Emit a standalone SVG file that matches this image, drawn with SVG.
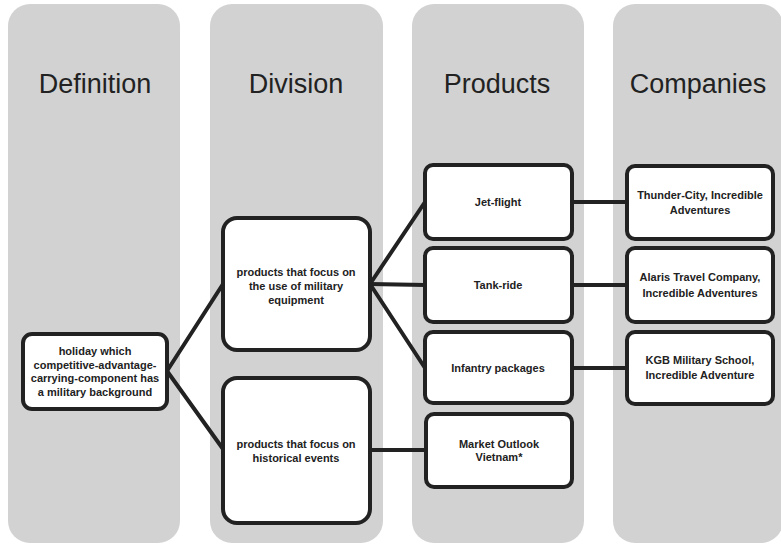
<svg xmlns="http://www.w3.org/2000/svg" width="781" height="544" viewBox="0 0 781 544">
<style>
.col{fill:#d2d2d2;}
.hdr{font-family:"Liberation Sans",Arial,sans-serif;font-size:27px;fill:#222;text-anchor:middle;}
.box{fill:#fff;stroke:#222;stroke-width:4;}
.t{font-family:"Liberation Sans",Arial,sans-serif;font-size:11px;font-weight:bold;fill:#222;text-anchor:middle;}
.edge{stroke:#222;stroke-width:4;fill:none;stroke-linecap:round;}
</style>
<rect width="781" height="544" fill="#fff"/>
<g id="columns">
<rect class="col" x="8" y="4" width="172" height="539" rx="22"/>
<rect class="col" x="210" y="4" width="173" height="539" rx="22"/>
<rect class="col" x="412" y="4" width="172" height="539" rx="22"/>
<rect class="col" x="613" y="4" width="170" height="539" rx="22"/>
<text class="hdr" x="95" y="93">Definition</text>
<text class="hdr" x="296" y="93">Division</text>
<text class="hdr" x="497" y="93">Products</text>
<text class="hdr" x="698" y="93">Companies</text>
</g>
<g id="connectors">
<path class="edge" d="M167 371 L223 284"/>
<path class="edge" d="M167 371 L223 449"/>
<path class="edge" d="M370 284 L425 202"/>
<path class="edge" d="M370 284 L425 285"/>
<path class="edge" d="M370 284 L425 368"/>
<path class="edge" d="M370 450 L426 450"/>
<path class="edge" d="M572 202 L627 202"/>
<path class="edge" d="M572 285 L627 285"/>
<path class="edge" d="M572 368 L627 368"/>
</g>
<g id="definition">
<rect class="box" x="23" y="334" width="144" height="75" rx="9"/>
<text class="t" x="95" y="355">holiday which</text>
<text class="t" x="95" y="368.5">competitive-advantage-</text>
<text class="t" x="95" y="382">carrying-component has</text>
<text class="t" x="95" y="395.5">a military background</text>
</g>
<g id="div-equipment">
<rect class="box" x="223" y="218" width="147" height="132" rx="14"/>
<text class="t" x="296" y="276">products that focus on</text>
<text class="t" x="296" y="290">the use of military</text>
<text class="t" x="296" y="304">equipment</text>
</g>
<g id="div-historical">
<rect class="box" x="223" y="378" width="147" height="145" rx="14"/>
<text class="t" x="296" y="448">products that focus on</text>
<text class="t" x="296" y="462">historical events</text>
</g>
<g id="prod-jet">
<rect class="box" x="425" y="165" width="147" height="74" rx="8"/>
<text class="t" x="498" y="206">Jet-flight</text>
</g>
<g id="prod-tank">
<rect class="box" x="425" y="248" width="147" height="74" rx="8"/>
<text class="t" x="498" y="289">Tank-ride</text>
</g>
<g id="prod-infantry">
<rect class="box" x="425" y="332" width="147" height="71" rx="8"/>
<text class="t" x="498" y="372">Infantry packages</text>
</g>
<g id="prod-market">
<rect class="box" x="426" y="414" width="146" height="73" rx="8"/>
<text class="t" x="499" y="448">Market Outlook</text>
<text class="t" x="499" y="461">Vietnam*</text>
</g>
<g id="comp-thunder">
<rect class="box" x="627" y="166" width="146" height="73" rx="8"/>
<text class="t" x="700" y="199">Thunder-City, Incredible</text>
<text class="t" x="700" y="214">Adventures</text>
</g>
<g id="comp-alaris">
<rect class="box" x="627" y="248" width="146" height="74" rx="8"/>
<text class="t" x="700" y="281">Alaris Travel Company,</text>
<text class="t" x="700" y="297">Incredible Adventures</text>
</g>
<g id="comp-kgb">
<rect class="box" x="627" y="332" width="146" height="72" rx="8"/>
<text class="t" x="700" y="364">KGB Military School,</text>
<text class="t" x="700" y="379">Incredible Adventure</text>
</g>
</svg>
